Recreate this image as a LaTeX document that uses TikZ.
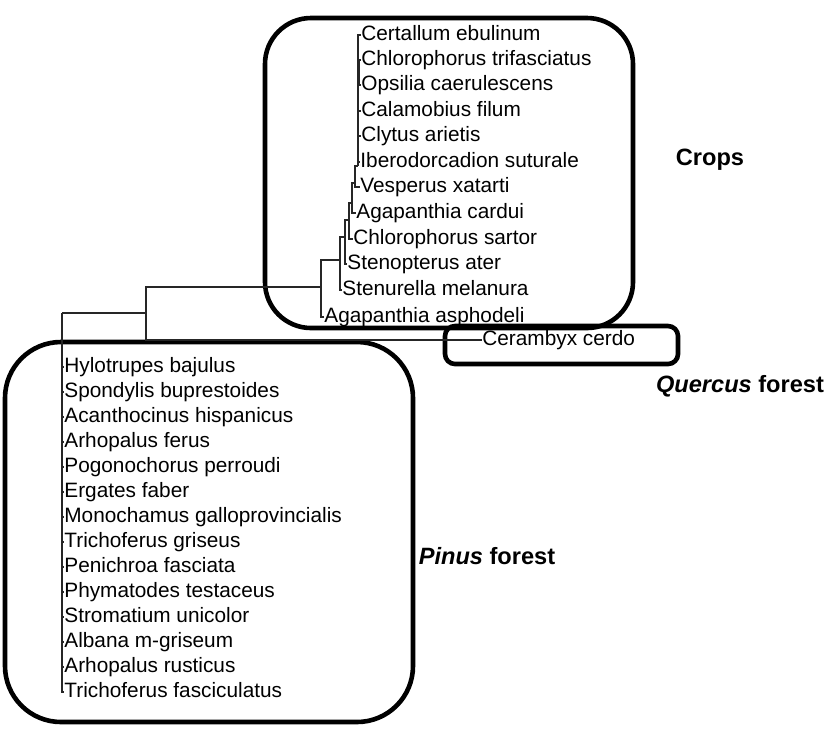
\documentclass[tikz,border=0pt]{standalone}
\usepackage{fontspec}
\setmainfont{Liberation Sans}
\usetikzlibrary{positioning}

\begin{document}
\begin{tikzpicture}[
x=0.5pt,y=-0.5pt,
sp/.style={anchor=west,inner sep=0pt,font=\fontsize{10.4}{12}\selectfont,text height=7.5pt,text depth=2.2pt},
br/.style={draw=black!85,line width=0.7pt},
grp/.style={draw=black,line width=2.3pt},
tag/.style={font=\fontsize{11.8}{14}\selectfont\bfseries}
]
\useasboundingbox (0,0) rectangle (829,730);
% habitat boxes
\draw[grp,rounded corners=23pt] (265,18) rectangle (633,328);
\draw[grp,rounded corners=5pt] (445,326) rectangle (678,364);
\draw[grp,rounded corners=28pt] (5,342) rectangle (413,722);
\node[tag] (crops) at (710,160) {Crops};
\node[tag] (querc) at (740,386) {\itshape Quercus\upshape{} forest};
\node[tag] (pinus) at (487,556) {\itshape Pinus\upshape{} forest};
% crops species
\node[sp] (cert) at (361,35) {Certallum ebulinum};
\node[sp] (ctri) at (361,60) {Chlorophorus trifasciatus};
\node[sp] (opsi) at (361,85) {Opsilia caerulescens};
\node[sp] (cala) at (361,111) {Calamobius filum};
\node[sp] (clyt) at (361,136) {Clytus arietis};
\node[sp] (iber) at (360,162) {Iberodorcadion suturale};
\node[sp] (vesp) at (360,187) {Vesperus xatarti};
\node[sp] (acar) at (356,213) {Agapanthia cardui};
\node[sp] (csar) at (353,239) {Chlorophorus sartor};
\node[sp] (sten) at (347,264) {Stenopterus ater};
\node[sp] (stml) at (342,290) {Stenurella melanura};
\node[sp] (aasp) at (324,317) {Agapanthia asphodeli};
\node[sp] (cer) at (482,340) {Cerambyx cerdo};
% pinus species
\foreach \txt [count=\i] in {Hylotrupes bajulus,Spondylis buprestoides,Acanthocinus hispanicus,
  Arhopalus ferus,Pogonochorus perroudi,Ergates faber,Monochamus galloprovincialis,
  Trichoferus griseus,Penichroa fasciata,Phymatodes testaceus,Stromatium unicolor,
  Albana m-griseum,Arhopalus rusticus,Trichoferus fasciculatus}
  \node[sp] (p\i) at (64,342+25*\i) {\txt};
% internal nodes
\coordinate (r0) at (62,313);
\coordinate (r1) at (146,313);
\coordinate (n1) at (321,287);
\coordinate (n2) at (340,260);
\coordinate (n3) at (345,237);
\coordinate (n4) at (349,220);
\coordinate (n5) at (352,203);
\coordinate (n6) at (355,183);
\coordinate (n7) at (358,166);
\coordinate (n8) at (359,72);
% branches
\draw[br] (r0) -- (r1);
\foreach \i in {1,...,14} \draw[br] (r0) |- (p\i.west);
\draw[br] (r1) |- (n1);
\draw[br] (r1) |- (cer.west);
\draw[br] (n1) |- (aasp.west);
\draw[br] (n1) |- (n2);
\draw[br] (n2) |- (stml.west);
\draw[br] (n2) |- (n3);
\draw[br] (n3) |- (sten.west);
\draw[br] (n3) |- (n4);
\draw[br] (n4) |- (csar.west);
\draw[br] (n4) |- (n5);
\draw[br] (n5) |- (acar.west);
\draw[br] (n5) |- (n6);
\draw[br] (n6) |- (vesp.west);
\draw[br] (n6) |- (n7);
\foreach \t in {cert,cala,clyt,iber} \draw[br] (n7) |- (\t.west);
\draw[br] (n7) |- (n8);
\draw[br] (n8) |- (ctri.west);
\draw[br] (n8) |- (opsi.west);
\end{tikzpicture}
\end{document}
